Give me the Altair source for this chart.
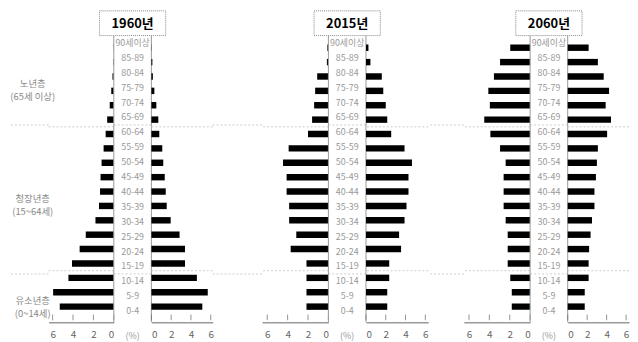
import altair as alt
import pandas as pd

# Age groups, bottom (0-4) to top (90+)
ages = ["0-4", "5-9", "10-14", "15-19", "20-24", "25-29", "30-34", "35-39",
        "40-44", "45-49", "50-54", "55-59", "60-64", "65-69", "70-74",
        "75-79", "80-84", "85-89", "90세이상"]

# Share of population (%), male (left) and female (right)
m1960 = [5.3, 5.95, 4.45, 4.1, 3.35, 2.75, 1.8, 1.45, 1.35, 1.3, 1.2, 1.0,
         0.8, 0.65, 0.4, 0.25, 0.13, 0.05, 0.02]
f1960 = [5.15, 5.7, 4.6, 3.4, 3.4, 2.85, 1.95, 1.55, 1.45, 1.35, 1.2, 1.1,
         0.8, 0.7, 0.5, 0.3, 0.15, 0.1, 0.02]
m2015 = [2.15, 2.15, 2.15, 2.15, 3.7, 3.15, 3.85, 3.85, 4.1, 4.1, 4.45, 3.9,
         2.0, 1.6, 1.4, 1.3, 1.1, 0.15, 0.1]
f2015 = [2.15, 2.15, 2.35, 2.35, 3.55, 3.35, 3.9, 4.1, 4.3, 4.3, 4.65, 3.9,
         2.55, 2.15, 2.0, 1.75, 1.6, 0.45, 0.25]
m2060 = [1.8, 1.8, 1.95, 2.2, 2.2, 2.2, 2.4, 2.6, 2.6, 2.6, 2.4, 2.95,
         3.9, 4.5, 3.95, 4.1, 3.55, 2.95, 1.95]
f2060 = [1.75, 1.75, 2.15, 2.15, 2.2, 2.35, 2.5, 2.75, 2.75, 2.9, 3.0, 3.1,
         4.05, 4.45, 3.9, 4.25, 3.7, 3.1, 2.15]

years = ["1960년", "2015년", "2060년"]
groups = ["노년층\n(65세 이상)", "청장년층\n(15~64세)", "유소년층\n(0~14세)"]
group_pos = [15.25, 7.5, 0.65]
boundaries = [2.5, 12.5]
tick_vals = [0, 2, 4, 6]

FONT = "Noto Sans CJK KR"
H = 290
YDOM = [-0.75, 18.5]
CW = 38
yscale = alt.Scale(domain=YDOM, nice=False, zero=False)

agedf = pd.DataFrame({"idx": list(range(len(ages))), "age": ages})
bdf = pd.DataFrame({"b": boundaries})
tdf = pd.DataFrame({"v": tick_vals, "y": [YDOM[0]] * len(tick_vals)})


def rules():
    return alt.Chart(bdf).mark_rule(color="#cccccc", strokeDash=[2, 2], strokeWidth=1).encode(
        y=alt.Y("b:Q", scale=yscale, axis=None))


def bar_panel(vals, w, dmax, left):
    df = pd.DataFrame({"idx": list(range(len(ages))), "val": vals})
    xs = alt.Scale(domain=[0, dmax], reverse=left, nice=False, zero=True)
    xax = alt.Axis(values=tick_vals, ticks=False, grid=False, title=None,
                   domainColor="#666", labelColor="#666", labelFont=FONT,
                   labelFontSize=10, labelPadding=7, format="d")
    bars = alt.Chart(df).mark_bar(color="black", size=6.5, orient="horizontal").encode(
        x=alt.X("val:Q", scale=xs, axis=xax),
        y=alt.Y("idx:Q", scale=yscale, axis=None))
    tk = alt.Chart(tdf).mark_tick(orient="vertical", size=6, thickness=1, color="#666").encode(
        x=alt.X("v:Q", scale=xs, axis=xax),
        y=alt.Y("y:Q", scale=yscale, axis=None))
    return alt.layer(rules(), bars, tk).properties(width=w, height=H)


def center_panel(year):
    labels = alt.Chart(agedf).mark_text(font=FONT, fontSize=9, color="#999").encode(
        x=alt.value(CW / 2), y=alt.Y("idx:Q", scale=yscale, axis=None), text="age:N")
    tdfy = pd.DataFrame({"t": [year]})
    edge_l = alt.Chart(tdfy).mark_rule(color="#999", strokeWidth=1).encode(
        x=alt.value(0), y=alt.value(0), y2=alt.value(H))
    edge_r = alt.Chart(tdfy).mark_rule(color="#999", strokeWidth=1).encode(
        x=alt.value(CW), y=alt.value(0), y2=alt.value(H))
    box = alt.Chart(tdfy).mark_rect(fill="white", stroke="#888", strokeDash=[1, 1],
                                    strokeWidth=1).encode(
        x=alt.value(CW / 2 - 33.5), x2=alt.value(CW / 2 + 33.5),
        y=alt.value(-25), y2=alt.value(0))
    ttl = alt.Chart(tdfy).mark_text(font=FONT, fontSize=13, fontWeight="bold", color="black").encode(
        x=alt.value(CW / 2), y=alt.value(-12), text="t:N")
    pct = alt.Chart(pd.DataFrame({"t": ["(%)"]})).mark_text(font=FONT, fontSize=9, color="#999").encode(
        x=alt.value(CW / 2), y=alt.value(H + 14), text="t:N")
    return alt.layer(rules(), edge_l, edge_r, labels, box, ttl, pct).properties(width=CW, height=H)


def spacer(w):
    return rules().properties(width=w, height=H)


gdf = pd.DataFrame({"g": groups, "p": group_pos})
glabels = alt.Chart(gdf).mark_text(font=FONT, fontSize=9.5, color="#888", lineBreak="\n",
                                   lineHeight=13).encode(
    x=alt.value(24), y=alt.Y("p:Q", scale=yscale, axis=None), text="g:N")
gpanel = alt.layer(rules(), glabels).properties(width=40, height=H)

panels = [
    gpanel,
    bar_panel(m1960, 66, 6.4, True), center_panel(years[0]), bar_panel(f1960, 62, 6.2, False),
    spacer(50),
    bar_panel(m2015, 67, 6.5, True), center_panel(years[1]), bar_panel(f2015, 63, 6.3, False),
    spacer(36),
    bar_panel(m2060, 67, 6.5, True), center_panel(years[2]), bar_panel(f2060, 62, 6.3, False),
]

chart = alt.hconcat(*panels, spacing=0, bounds="flush").resolve_scale(
    x="independent", y="independent").configure_view(stroke=None).properties(padding=0)

chart.save("out.html", embed_options={"renderer": "svg", "actions": False})
